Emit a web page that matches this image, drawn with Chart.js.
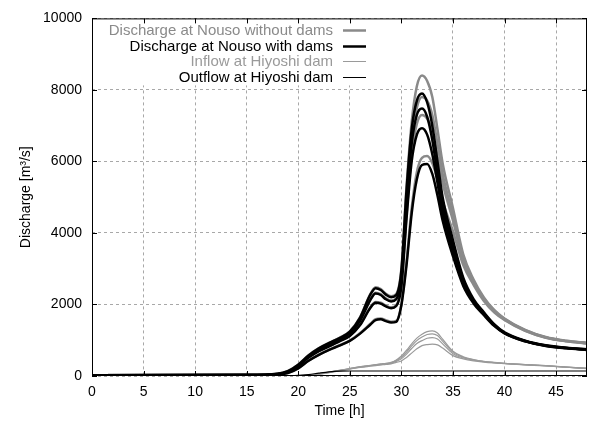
<!DOCTYPE html>
<html>
<head>
<meta charset="utf-8">
<script src="https://cdn.jsdelivr.net/npm/chart.js@4/dist/chart.umd.min.js"></script>
<style>
  html, body { margin: 0; padding: 0; background: #fff; }
  #wrap { width: 589px; height: 425px; }
</style>
</head>
<body>
<div id="wrap"><canvas id="flood" width="589" height="425"></canvas></div>
<script>
// time axis [h]
const hours = [0, 15, 18, 19, 20, 21, 22, 23, 24, 25, 26, 27, 27.5, 28, 28.5, 29, 29.5, 30, 30.5, 31, 31.5, 32, 32.5, 33, 33.5, 34, 35, 36, 37, 38, 39, 40, 42, 44, 46, 48];

// Discharge at Nouso without dams (ensemble members)
const nousoNoDam1 = [20, 25, 60, 140, 320, 580, 780, 930, 1070, 1250, 1650, 2300, 2480, 2430, 2300, 2230, 2290, 3000, 5300, 7100, 8100, 8400, 8250, 7800, 6900, 5950, 4700, 3400, 2700, 2200, 1850, 1610, 1290, 1090, 985, 925];
const nousoNoDam2 = [20, 25, 55, 130, 300, 550, 740, 890, 1030, 1200, 1560, 2150, 2330, 2290, 2170, 2110, 2170, 2800, 4900, 6600, 7500, 7800, 7700, 7300, 6500, 5650, 4500, 3300, 2650, 2170, 1820, 1595, 1280, 1080, 980, 920];
const nousoNoDam3 = [20, 25, 50, 120, 280, 520, 700, 840, 980, 1130, 1440, 1930, 2070, 2050, 1970, 1920, 1980, 2550, 4500, 6200, 7050, 7300, 7200, 6850, 6150, 5400, 4350, 3220, 2600, 2130, 1800, 1580, 1270, 1075, 975, 915];
const nousoNoDam4 = [20, 25, 40, 90, 220, 430, 600, 740, 860, 990, 1200, 1460, 1590, 1610, 1560, 1520, 1540, 2000, 3200, 4700, 5700, 6100, 6150, 5950, 5500, 4900, 4050, 3100, 2550, 2100, 1780, 1565, 1260, 1070, 970, 910];

// Discharge at Nouso with dams
const nousoDam1 = [20, 25, 60, 135, 315, 575, 775, 925, 1060, 1240, 1635, 2280, 2455, 2405, 2275, 2205, 2265, 2950, 5200, 6900, 7700, 7900, 7650, 7000, 6000, 5000, 3800, 2750, 2150, 1780, 1450, 1220, 990, 860, 790, 745];
const nousoDam2 = [20, 25, 55, 125, 295, 545, 735, 880, 1020, 1190, 1545, 2130, 2305, 2265, 2145, 2085, 2145, 2750, 4800, 6500, 7300, 7480, 7250, 6600, 5650, 4750, 3650, 2650, 2100, 1750, 1430, 1210, 980, 850, 785, 740];
const nousoDam3 = [20, 25, 50, 115, 275, 515, 695, 830, 970, 1120, 1425, 1910, 2045, 2025, 1945, 1895, 1955, 2500, 4400, 6000, 6750, 6930, 6750, 6200, 5400, 4550, 3500, 2600, 2070, 1730, 1420, 1200, 975, 845, 780, 735];
const nousoDam4 = [20, 25, 40, 85, 215, 425, 590, 730, 850, 980, 1185, 1440, 1565, 1585, 1535, 1495, 1515, 1980, 3100, 4550, 5500, 5900, 5930, 5650, 5050, 4350, 3350, 2520, 2030, 1700, 1400, 1190, 970, 840, 775, 730];

// Inflow at Hiyoshi dam
const inflow1 = [0, 0, 3, 6, 12, 25, 60, 110, 160, 210, 260, 300, 320, 340, 355, 380, 450, 560, 720, 900, 1060, 1170, 1240, 1260, 1200, 1030, 690, 540, 460, 410, 380, 355, 320, 290, 250, 215];
const inflow2 = [0, 0, 3, 6, 12, 25, 58, 106, 155, 205, 254, 293, 312, 330, 345, 368, 430, 520, 670, 840, 990, 1090, 1160, 1180, 1130, 975, 660, 525, 450, 405, 375, 352, 318, 288, 248, 213];
const inflow3 = [0, 0, 3, 6, 12, 24, 55, 102, 150, 200, 248, 286, 304, 320, 335, 356, 410, 480, 610, 770, 910, 990, 1055, 1075, 1035, 900, 625, 505, 440, 400, 372, 350, 316, 286, 246, 211];
const inflow4 = [0, 0, 3, 5, 10, 22, 50, 95, 142, 192, 238, 275, 292, 308, 322, 340, 380, 420, 520, 640, 760, 850, 880, 890, 870, 780, 570, 480, 425, 390, 365, 345, 312, 283, 244, 209];

// Outflow at Hiyoshi dam
const outflow = [0, 0, 3, 6, 15, 40, 80, 115, 135, 140, 140, 140, 140, 140, 140, 140, 140, 140, 140, 140, 140, 140, 140, 140, 140, 140, 140, 140, 140, 140, 140, 140, 140, 140, 140, 140];

const xTicks = [0, 5, 10, 15, 20, 25, 30, 35, 40, 45];
const yTicks = [0, 2000, 4000, 6000, 8000, 10000];

const GRAY = "#8a8a8a";
const THIN_GRAY = "#9a9a9a";

Chart.defaults.font.family = "'Liberation Sans', Arial, sans-serif";
Chart.defaults.font.size = 14;
Chart.defaults.color = "#000";

const pts = (vals) => vals.map((v, i) => ({ x: hours[i], y: v }));

function series(label, vals, color, width, order, legend) {
    return {
        label: label,
        data: pts(vals),
        borderColor: color,
        borderWidth: width,
        pointRadius: 0,
        fill: false,
        cubicInterpolationMode: "monotone",
        order: order,
        inLegend: legend,
    };
}

const datasets = [
    series("Discharge at Nouso without dams", nousoNoDam1, GRAY, 2.5, 3, true),
    series("Discharge at Nouso without dams", nousoNoDam2, GRAY, 2.5, 3, false),
    series("Discharge at Nouso without dams", nousoNoDam3, GRAY, 2.5, 3, false),
    series("Discharge at Nouso without dams", nousoNoDam4, GRAY, 2.5, 3, false),
    series("Discharge at Nouso with dams", nousoDam1, "#000", 2.5, 2, true),
    series("Discharge at Nouso with dams", nousoDam2, "#000", 2.5, 2, false),
    series("Discharge at Nouso with dams", nousoDam3, "#000", 2.5, 2, false),
    series("Discharge at Nouso with dams", nousoDam4, "#000", 2.5, 2, false),
    series("Inflow at Hiyoshi dam", inflow1, THIN_GRAY, 1.2, 1, true),
    series("Inflow at Hiyoshi dam", inflow2, THIN_GRAY, 1.2, 1, false),
    series("Inflow at Hiyoshi dam", inflow3, THIN_GRAY, 1.2, 1, false),
    series("Inflow at Hiyoshi dam", inflow4, THIN_GRAY, 1.2, 1, false),
    series("Outflow at Hiyoshi dam", outflow, "#000", 1.2, 0, true),
];

// white key box drawn over the grid, before the curves
const keyBox = {
    id: "keyBox",
    beforeDatasetsDraw(chart) {
        const ctx = chart.ctx;
        ctx.save();
        ctx.fillStyle = "#fff";
        ctx.fillRect(chart.chartArea.left + 1, chart.chartArea.top + 1, 310, 66);
        ctx.restore();
    },
    afterDraw(chart) {
        const ctx = chart.ctx;
        const area = chart.chartArea;
        const xs = chart.scales.x, ys = chart.scales.y;
        ctx.save();

        // key entries
        ctx.font = "15px 'Liberation Sans', Arial, sans-serif";
        ctx.textAlign = "right";
        ctx.textBaseline = "middle";
        let row = 0;
        chart.data.datasets.forEach((ds) => {
            if (!ds.inLegend) return;
            const y = Math.round(area.top + 12 + row * 15.5) + 0.5;
            ctx.fillStyle = ds.borderColor;
            ctx.fillText(ds.label, 333, y);
            ctx.strokeStyle = ds.borderColor;
            ctx.lineWidth = ds.borderWidth > 2 ? 2.5 : 1;
            ctx.beginPath();
            ctx.moveTo(343, y);
            ctx.lineTo(366, y);
            ctx.stroke();
            row++;
        });

        // frame and inward ticks
        ctx.strokeStyle = "#000";
        ctx.lineWidth = 1;
        ctx.strokeRect(area.left + 0.5, area.top + 0.5, area.right - area.left - 1, area.bottom - area.top - 1);
        ctx.beginPath();
        xTicks.forEach((v) => {
            const px = Math.round(xs.getPixelForValue(v)) + 0.5;
            ctx.moveTo(px, area.bottom);
            ctx.lineTo(px, area.bottom - 5);
            ctx.moveTo(px, area.top);
            ctx.lineTo(px, area.top + 5);
        });
        yTicks.forEach((v) => {
            const py = Math.round(ys.getPixelForValue(v)) + 0.5;
            ctx.moveTo(area.left, py);
            ctx.lineTo(area.left + 5, py);
            ctx.moveTo(area.right, py);
            ctx.lineTo(area.right - 5, py);
        });
        ctx.stroke();
        ctx.restore();
    },
};

new Chart(document.getElementById("flood"), {
    type: "line",
    data: { datasets: datasets },
    options: {
        responsive: false,
        animation: false,
        layout: { padding: { top: 15, right: 2, left: 0, bottom: 0 } },
        plugins: {
            legend: { display: false },
            tooltip: { enabled: false },
        },
        scales: {
            x: {
                type: "linear",
                min: 0,
                max: 48,
                afterBuildTicks: (s) => { s.ticks = xTicks.map((v) => ({ value: v })); },
                afterFit: (s) => { s.height = 49; },
                grid: { color: "#a8a8a8", drawTicks: false },
                border: { display: false, dash: [3, 3] },
                ticks: { padding: 8, maxRotation: 0, autoSkip: false, color: "#000", callback: (v) => String(v) },
                title: { display: true, text: "Time [h]", padding: { top: 0, bottom: 5 }, color: "#000" },
            },
            y: {
                type: "linear",
                min: 0,
                max: 10000,
                afterBuildTicks: (s) => { s.ticks = yTicks.map((v) => ({ value: v })); },
                afterFit: (s) => { s.width = 92; },
                grid: { color: "#a8a8a8", drawTicks: false },
                border: { display: false, dash: [3, 3] },
                ticks: { padding: 10, color: "#000", callback: (v) => String(v) },
                title: { display: true, text: "Discharge [m\u00b3/s]", padding: { top: 18, bottom: 0 }, color: "#000" },
            },
        },
    },
    plugins: [keyBox],
});
</script>
</body>
</html>
